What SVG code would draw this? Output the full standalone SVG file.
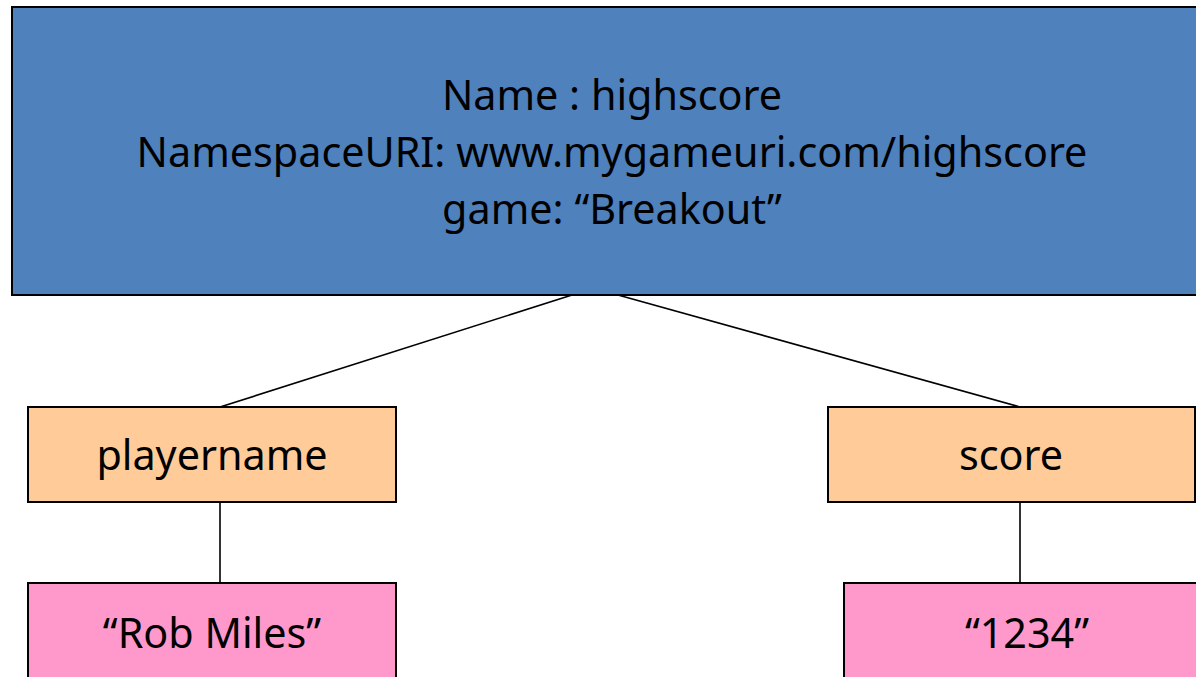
<svg xmlns="http://www.w3.org/2000/svg" width="1196" height="677" viewBox="0 0 1196 677">
<style>
.box{stroke:#000;stroke-width:2}
.root{fill:#4F81BD}
.el{fill:#FFCC99}
.val{fill:#FF99CC}
text{font-family:"Noto Sans","Open Sans",sans-serif;font-size:41.3px;fill:#000;text-anchor:middle}
.conn line{stroke:#000;stroke-width:1.6}
</style>
<rect width="1196" height="677" fill="#fff"/>
<g class="conn" id="connectors">
<line x1="572" y1="295" x2="220" y2="407"/>
<line x1="618" y1="295" x2="1020" y2="407"/>
<line x1="220" y1="502" x2="220" y2="583"/>
<line x1="1020" y1="502" x2="1020" y2="583"/>
</g>
<g id="highscore">
<rect class="box root" x="12" y="7" width="1200" height="288"/>
<text x="612" y="110">Name : highscore</text>
<text x="612" y="167">NamespaceURI: www.mygameuri.com/highscore</text>
<text x="612" y="224">game: “Breakout”</text>
</g>
<g id="playername">
<rect class="box el" x="28" y="407" width="368" height="95"/>
<text x="212" y="470">playername</text>
</g>
<g id="score">
<rect class="box el" x="828" y="407" width="367" height="95"/>
<text x="1011" y="470">score</text>
</g>
<g id="robmiles">
<rect class="box val" x="28" y="583" width="368" height="110"/>
<text x="212" y="648">“Rob Miles”</text>
</g>
<g id="v1234">
<rect class="box val" x="844" y="583" width="370" height="110"/>
<text x="1027" y="648">“1234”</text>
</g>
</svg>
